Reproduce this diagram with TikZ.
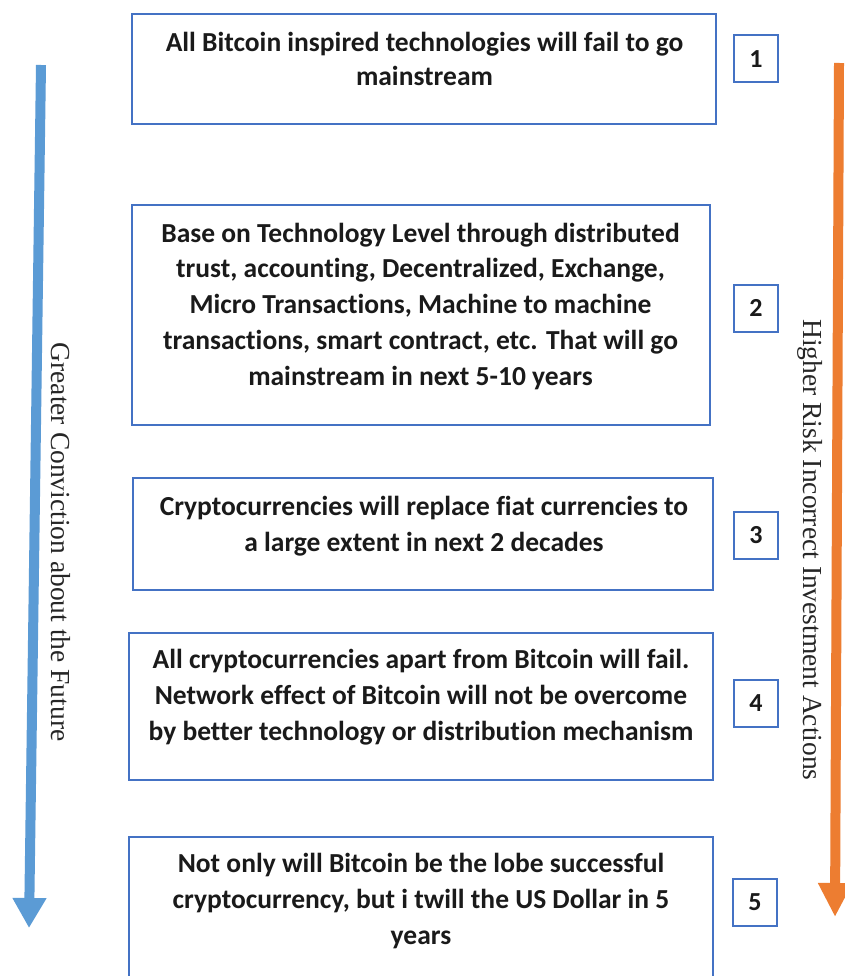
\documentclass[tikz,border=0pt]{standalone}
\usepackage{fontspec}
\setmainfont{Carlito}[Ligatures={NoCommon}]
\newfontfamily\serifface{Liberation Serif}
\usetikzlibrary{arrows.meta}
\definecolor{boxblue}{HTML}{4472C4}
\definecolor{arrblue}{HTML}{5B9BD5}
\definecolor{arrorange}{HTML}{ED7D31}
\definecolor{txt}{HTML}{1A1A1A}
\begin{document}
\begin{tikzpicture}[x=1pt,y=-1pt,
  mainbox/.style={draw=boxblue, line width=2pt, inner sep=0pt},
  boxtext/.style={align=center, text=txt, anchor=base,
    font=\fontsize{27.5}{35.7}\selectfont\bfseries, inner sep=0pt},
  numbox/.style={draw=boxblue, line width=2pt, minimum width=44pt, minimum height=47pt,
    inner sep=0pt, text=txt, font=\fontsize{26}{28}\selectfont\bfseries},
  sidelabel/.style={text=black!85, font=\serifface\fontsize{27.5}{30}\selectfont, rotate=-90, inner sep=0pt},
  bigarrow/.style={line width=10pt}
]
\useasboundingbox (0,0) rectangle (844,976);
\fill[white] (0,0) rectangle (844,976);

\node[mainbox, minimum width=584pt, minimum height=110pt] (b1) at (424,69) {};
\node[mainbox, minimum width=578pt, minimum height=220pt] (b2) at (421,315) {};
\node[mainbox, minimum width=580pt, minimum height=112pt] (b3) at (423,534) {};
\node[mainbox, minimum width=584pt, minimum height=147pt] (b4) at (421,706.5) {};
\node[mainbox, minimum width=584pt, minimum height=145pt] (b5) at (421,909.5) {};

\node[boxtext, font=\fontsize{27.5}{34}\selectfont\bfseries] (t1) at (424.5,85.5)
  {All Bitcoin inspired technologies will fail to go\\mainstream};
\node[boxtext] (t2) at (420.5,385)
  {Base on Technology Level through distributed\\trust, accounting, Decentralized, Exchange,\\Micro Transactions, Machine to machine\\transactions, smart contract, etc. That will go\\mainstream in next 5-10 years};
\node[boxtext] (t3) at (424,551)
  {Cryptocurrencies will replace fiat currencies to\\a large extent in next 2 decades};
\node[boxtext] (t4) at (421,740)
  {All cryptocurrencies apart from Bitcoin will fail.\\Network effect of Bitcoin will not be overcome\\by better technology or distribution mechanism};
\node[boxtext] (t5) at (421,944)
  {Not only will Bitcoin be the lobe successful\\cryptocurrency, but i twill the US Dollar in 5\\years};

\node[numbox] (n1) at (756,59) {1};
\node[numbox] (n2) at (756,308) {2};
\node[numbox] (n3) at (756,535) {3};
\node[numbox] (n4) at (756,703) {4};
\node[numbox] (n5) at (755,902) {5};

\coordinate (la1) at (41,65);
\coordinate (la2) at (29,928);
\draw[bigarrow, arrblue, -{Triangle[length=30pt,width=32pt]}] (la1) -- (la2);
\coordinate (ra1) at (839,63);
\coordinate (ra2) at (835,917);
\draw[bigarrow, arrorange, -{Triangle[length=34pt,width=32pt]}] (ra1) -- (ra2);

\node[sidelabel] (gl) at (61,542) {Greater Conviction about the Future};
\node[sidelabel] (hl) at (810,550) {Higher Risk Incorrect Investment Actions};
\end{tikzpicture}
\end{document}
